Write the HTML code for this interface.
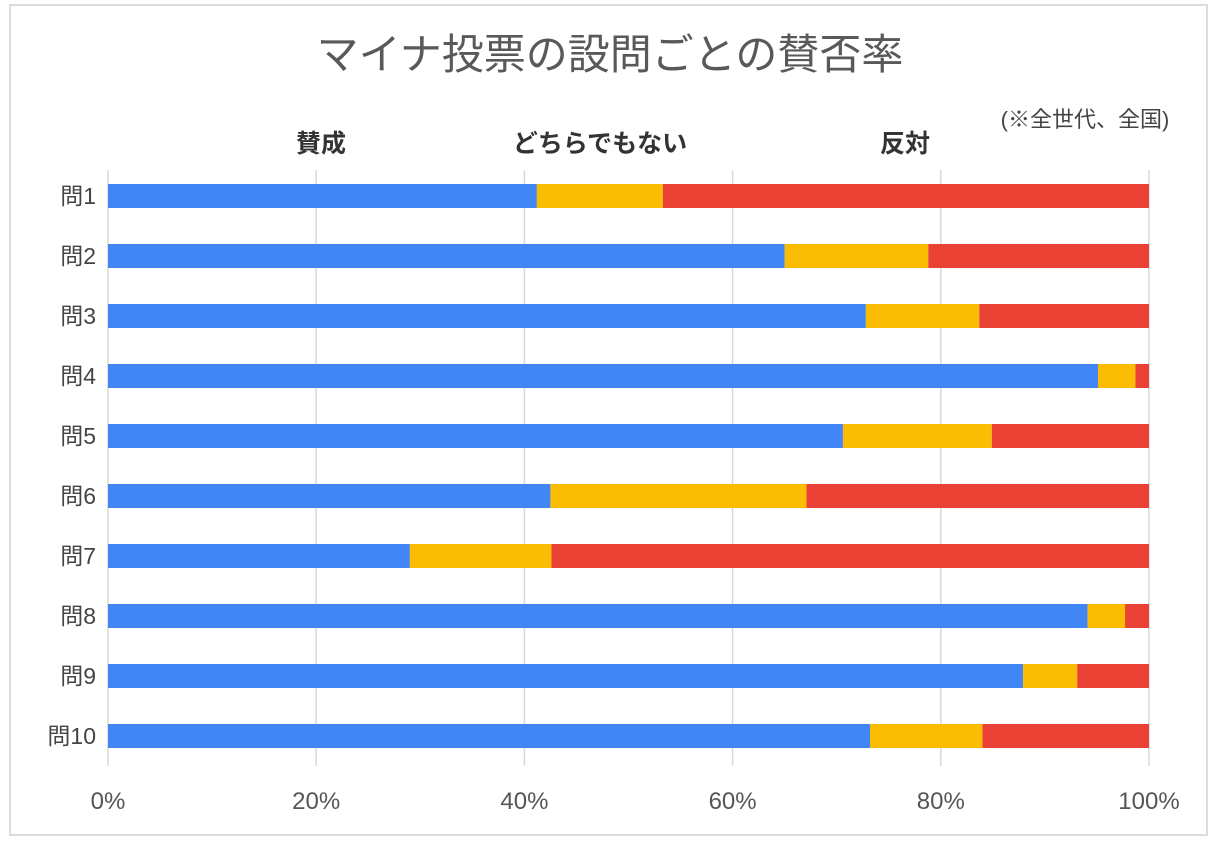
<!DOCTYPE html>
<html><head><meta charset="utf-8">
<style>
html,body{margin:0;padding:0;background:#fff;}
body{width:1217px;height:845px;overflow:hidden;font-family:"Liberation Sans","Noto Sans CJK JP",sans-serif;}
</style></head>
<body>
<svg width="1217" height="845" xmlns="http://www.w3.org/2000/svg">
<rect x="10" y="5" width="1197" height="830" fill="#fff" stroke="#d0d0d0" stroke-width="1.5"/>
<text x="610" y="69" text-anchor="middle" font-size="42" fill="#595959" font-family="Liberation Sans, Noto Sans CJK JP, sans-serif">マイナ投票の設問ごとの賛否率</text>
<text x="1085" y="127" text-anchor="middle" font-size="22" fill="#444" font-family="Liberation Sans, Noto Sans CJK JP, sans-serif">(※全世代、全国)</text>
<text x="321" y="152" text-anchor="middle" font-size="25" font-weight="bold" fill="#333" font-family="Liberation Sans, Noto Sans CJK JP, sans-serif">賛成</text>
<text x="600" y="152" text-anchor="middle" font-size="25" font-weight="bold" fill="#333" font-family="Liberation Sans, Noto Sans CJK JP, sans-serif">どちらでもない</text>
<text x="905" y="152" text-anchor="middle" font-size="25" font-weight="bold" fill="#333" font-family="Liberation Sans, Noto Sans CJK JP, sans-serif">反対</text>
<g id="grid"></g>
<g id="bars"></g>
<g id="labels"></g>
</svg>
<script>
const categories = ["問1","問2","問3","問4","問5","問6","問7","問8","問9","問10"];
const agree = [41.2,65.0,72.8,95.1,70.6,42.5,29.0,94.1,87.9,73.2];
const neutral = [12.1,13.8,10.9,3.6,14.3,24.6,13.6,3.6,5.2,10.8];
const disagree = [46.7,21.2,16.3,1.3,15.1,32.9,57.4,2.3,6.9,16.0];
const ticks = [0,20,40,60,80,100];
const tickLabels = ["0%","20%","40%","60%","80%","100%"];

const NS="http://www.w3.org/2000/svg";
const x0=108,x1=1149,yTop=170,yBot=766,rowH=60,firstY=196,barH=24;
const xs=v=>x0+(x1-x0)*v/100;
const ys=i=>firstY+i*rowH;
const grid=document.getElementById('grid'),bars=document.getElementById('bars'),labels=document.getElementById('labels');
function mk(tag,attrs){const e=document.createElementNS(NS,tag);for(const k in attrs)e.setAttribute(k,attrs[k]);return e;}
ticks.forEach((t,i)=>{
  const l=mk('line',{x1:xs(t),x2:xs(t),y1:yTop,y2:yBot,stroke:'#d9d9d9','stroke-width':1.5});
  
  
  grid.appendChild(l);
  const tx=mk('text',{x:xs(t),y:809,'text-anchor':'middle','font-size':24,fill:'#555'});
  tx.textContent=tickLabels[i];
  
  
  labels.appendChild(tx);
});
const series=[[agree,'#4285F4','bar-agree'],[neutral,'#FBBC04','bar-neutral'],[disagree,'#EA4335','bar-disagree']];
categories.forEach((c,i)=>{
  let acc=0;
  series.forEach(([arr,col,name])=>{
    const r=mk('rect',{x:xs(acc),y:ys(i)-barH/2,width:xs(acc+arr[i])-xs(acc),height:barH,fill:col});
    
    
    bars.appendChild(r);
    acc+=arr[i];
  });
  const t=mk('text',{x:96,y:ys(i)+8,'text-anchor':'end','font-size':23,fill:'#444','font-family':'Liberation Sans, Noto Sans CJK JP, sans-serif'});
  t.textContent=c;
  
  
  labels.appendChild(t);
});
</script>
</body></html>
